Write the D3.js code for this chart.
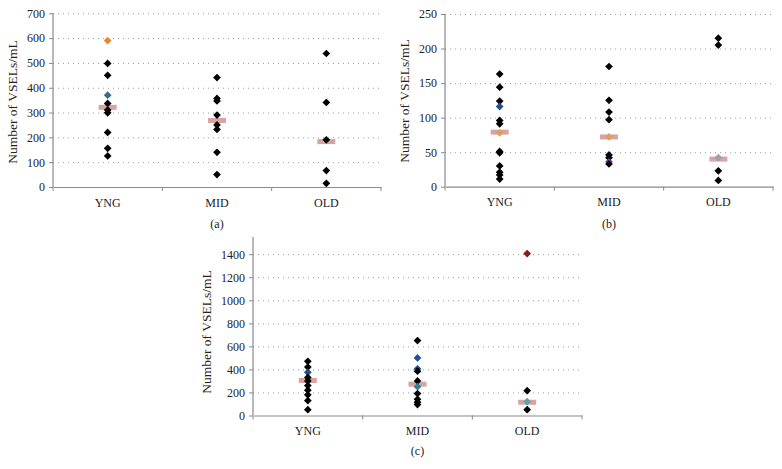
<!DOCTYPE html>
<html>
<head>
<meta charset="utf-8">
<script src="https://cdn.jsdelivr.net/npm/d3@7"></script>
<style>
  html, body { margin: 0; padding: 0; background: #fff; }
  svg { display: block; }
  text { font-family: "Liberation Serif", "Times New Roman", Times, serif; fill: #222; }
</style>
</head>
<body>
<svg id="chart" width="782" height="469"></svg>
<script>
// ---------- DATA ----------
const categories = ["YNG", "MID", "OLD"];

// Panel (a)
const aYNG = [590, 498, 450, 370, 337, 310, 299, 220, 156, 125];
const aMID = [441, 357, 347, 290, 250, 232, 140, 50];
const aOLD = [538, 341, 190, 66, 15];
const aMedian = [321, 268, 183];
const aTicks = [0, 100, 200, 300, 400, 500, 600, 700];

// Panel (b)
const bYNG = [163, 144, 124, 116, 96, 91, 78, 51, 49, 30, 21, 17, 11];
const bMID = [174, 125, 108, 97, 72, 46, 42, 36, 33];
const bOLD = [215, 205, 42, 23, 9];
const bMedian = [79, 72, 40];
const bTicks = [0, 50, 100, 150, 200, 250];

// Panel (c)
const cYNG = [470, 420, 375, 330, 300, 260, 220, 180, 130, 50];
const cMID = [650, 500, 405, 385, 300, 250, 190, 140, 115, 95];
const cOLD = [1405, 215, 120, 50];
const cMedian = [304, 272, 115];
const cTicks = [0, 200, 400, 600, 800, 1000, 1200, 1400];

const yLabel = "Number of VSELs/mL";

// highlighted (non-black) markers: [category index, point index, colour]
const aHighlight = [[0, 0, "#e8892a"], [0, 3, "#2f6f8f"]];
const bHighlight = [[0, 3, "#1f4f8f"], [0, 6, "#d9a060"], [1, 4, "#d9a060"], [1, 7, "#7a3aa8"], [2, 2, "#a0a0a0"]];
const cHighlight = [[0, 2, "#1f4f8f"], [1, 1, "#1f4f8f"], [1, 2, "#1f4f8f"], [1, 5, "#2f7f8f"], [2, 0, "#8b1a1a"], [2, 2, "#5fa0b0"]];

// ---------- DRAW ----------
const svg = d3.select("#chart");

function drawPanel(cfg) {
  const g = svg.append("g");
  const x = d3.scaleBand().domain(categories).range([cfg.x0, cfg.x1]).paddingInner(0).paddingOuter(0);
  const y = d3.scaleLinear().domain([0, cfg.ticks[cfg.ticks.length - 1]]).range([cfg.yBottom, cfg.yTopTick]);
  const axisColor = "#8a8a8a";

  // gridlines (dotted)
  g.append("g")
    .attr("transform", `translate(${cfg.x0},0)`)
    .call(d3.axisLeft(y).tickValues(cfg.ticks.slice(1)).tickSize(-(cfg.x1 - cfg.x0)).tickFormat(""))
    .call(s => s.select(".domain").remove())
    .call(s => s.selectAll("line").attr("stroke", "#9a9a9a").attr("stroke-width", 1)
      .attr("stroke-dasharray", "1,4"));

  // y axis
  const ya = g.append("g")
    .attr("transform", `translate(${cfg.x0},0)`)
    .call(d3.axisLeft(y).tickValues(cfg.ticks).tickSize(4).tickPadding(4).tickFormat(d3.format("d")));
  ya.select(".domain").remove();
  ya.selectAll(".tick line").attr("stroke", axisColor);
  ya.selectAll("text").style("font-size", "12px").attr("fill", "#222");
  g.append("line")
    .attr("x1", cfg.x0).attr("x2", cfg.x0)
    .attr("y1", cfg.yAxisTop).attr("y2", cfg.yBottom)
    .attr("stroke", axisColor).attr("stroke-width", 1.2);

  // x axis
  const xa = g.append("g")
    .attr("transform", `translate(0,${cfg.yBottom})`)
    .call(d3.axisBottom(x).tickSize(0).tickPadding(11));
  xa.select(".domain").attr("stroke", axisColor).attr("stroke-width", 1.2);
  xa.selectAll("text").style("font-size", "12px").attr("fill", "#222");
  const bounds = categories.map(c => x(c)).concat([cfg.x1]);
  g.selectAll(".xtick").data(bounds).enter().append("line")
    .attr("x1", d => d).attr("x2", d => d)
    .attr("y1", cfg.yBottom).attr("y2", cfg.yBottom + 4)
    .attr("stroke", axisColor).attr("stroke-width", 1);

  // y label
  g.append("text")
    .attr("transform", `translate(${cfg.labelX},${cfg.labelY}) rotate(-90)`)
    .attr("text-anchor", "middle")
    .style("font-size", "13.5px")
    .text(yLabel);

  // panel tag
  g.append("text")
    .attr("x", (cfg.x0 + cfg.x1) / 2)
    .attr("y", cfg.tagY)
    .attr("text-anchor", "middle")
    .style("font-size", "12px")
    .text(cfg.tag);

  // points
  const diamond = d3.symbol().type(d3.symbolSquare).size(30);
  const hl = {};
  cfg.highlight.forEach(([ci, pi, col]) => { hl[ci + "-" + pi] = col; });
  cfg.series.forEach((vals, ci) => {
    const cx = x(categories[ci]) + x.bandwidth() / 2;
    // median bar
    g.append("rect")
      .attr("x", cx - 9).attr("y", y(cfg.median[ci]) - 2.5)
      .attr("width", 18).attr("height", 5)
      .attr("fill", "#d8a4a2");
    vals.forEach((v, pi) => {
      const col = hl[ci + "-" + pi] || "#000";
      g.append("path")
        .attr("d", diamond())
        .attr("transform", `translate(${cx},${y(v)}) rotate(45)`)
        .attr("fill", col);
    });
  });
}

drawPanel({
  x0: 53, x1: 381, yBottom: 187, yTopTick: 13.3, yAxisTop: 13.3,
  ticks: aTicks, series: [aYNG, aMID, aOLD], median: aMedian, highlight: aHighlight,
  labelX: 17, labelY: 102, tag: "(a)", tagY: 228
});
drawPanel({
  x0: 445, x1: 773, yBottom: 186.7, yTopTick: 14, yAxisTop: 14,
  ticks: bTicks, series: [bYNG, bMID, bOLD], median: bMedian, highlight: bHighlight,
  labelX: 409, labelY: 101, tag: "(b)", tagY: 228
});
drawPanel({
  x0: 253, x1: 582, yBottom: 415.5, yTopTick: 254.2, yAxisTop: 237,
  ticks: cTicks, series: [cYNG, cMID, cOLD], median: cMedian, highlight: cHighlight,
  labelX: 211, labelY: 332, tag: "(c)", tagY: 455
});
</script>
</body>
</html>
